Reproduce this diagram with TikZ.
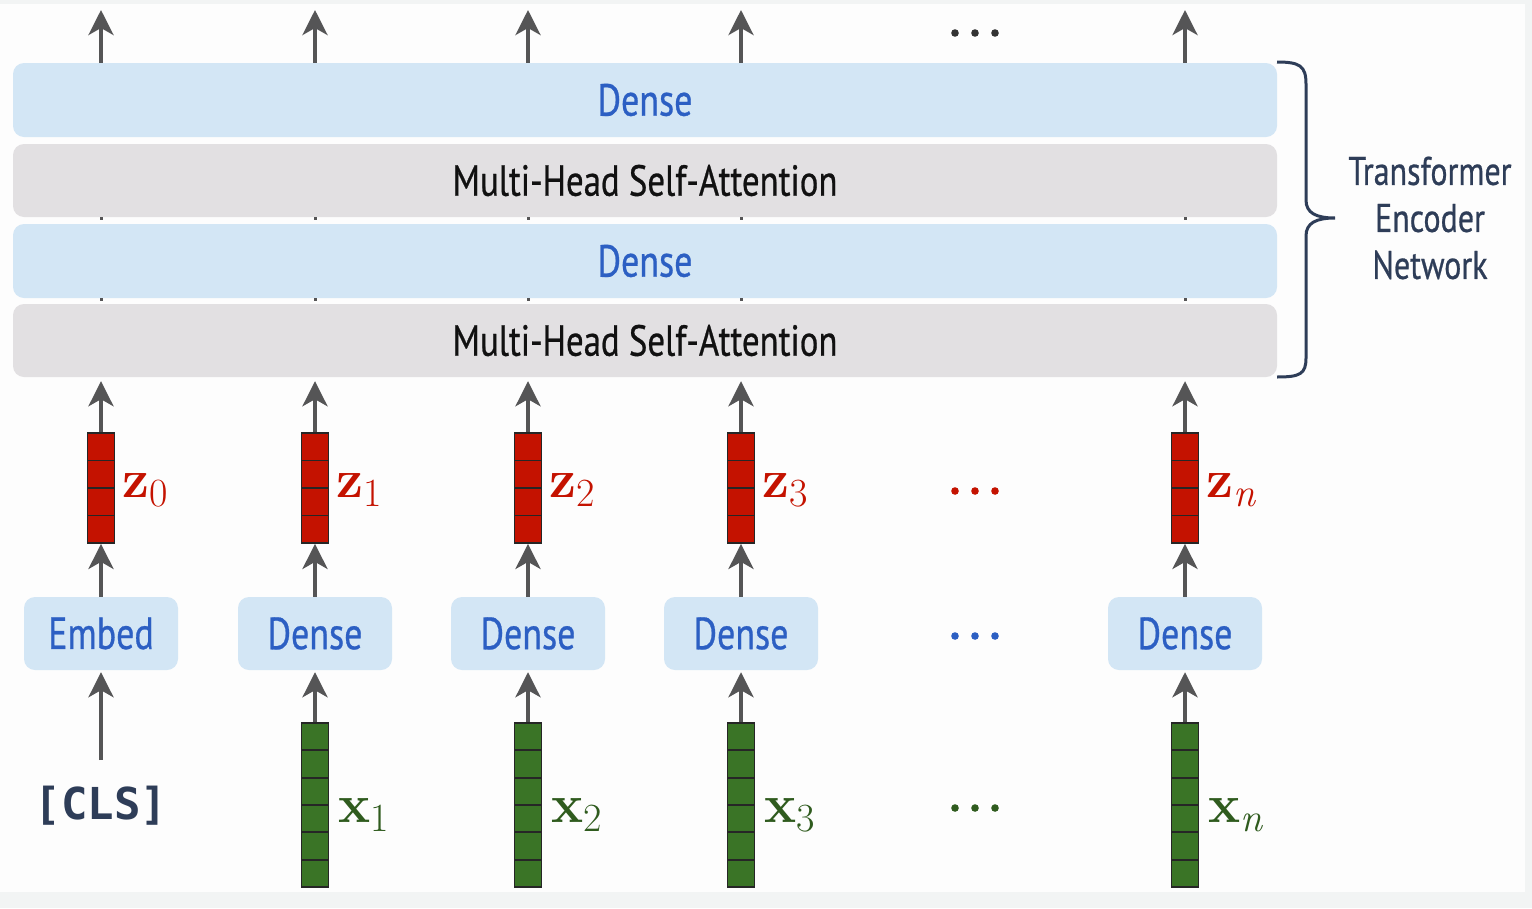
\documentclass[tikz,border=0pt]{standalone}
\usepackage{fontspec}
\setmainfont{PT Sans}
\newfontfamily\condf[FakeStretch=0.8,FakeBold=0.6]{PT Sans}
\newfontfamily\monof{DejaVu Sans Mono}
\newfontfamily\lmr{Latin Modern Roman}
\usetikzlibrary{arrows.meta}
\definecolor{densefill}{HTML}{D3E6F5}
\definecolor{mhsafill}{HTML}{E2E0E2}
\definecolor{textblue}{HTML}{2C5FC3}
\definecolor{mhsatext}{HTML}{111111}
\definecolor{zred}{HTML}{C41200}
\definecolor{xgreen}{HTML}{3A7426}
\definecolor{xlabgreen}{HTML}{2F5B1E}
\definecolor{slate}{HTML}{2E3D58}
\definecolor{arrgray}{HTML}{555556}
\definecolor{bgmain}{HTML}{FDFDFD}
\definecolor{bgedge}{HTML}{F2F4F4}
\newcommand{\vlab}[2]{{\lmr\fontsize{54}{54}\selectfont\bfseries #1}\raisebox{-9pt}{\lmr\fontsize{40}{40}\selectfont #2}}
\begin{document}
\begin{tikzpicture}[x=1pt,y=-1pt,
  arr/.style={draw=arrgray, line width=4pt, -{Stealth[length=25pt,width=25pt,inset=7pt]}},
  bigbox/.style={rectangle, rounded corners=11pt, minimum width=1264pt, minimum height=74pt, inner sep=0pt, font=\condf\fontsize{45}{45}\selectfont},
  bigdense/.style={bigbox, fill=densefill, text=textblue},
  bigmhsa/.style={bigbox, fill=mhsafill, text=mhsatext, font=\condf\fontsize{43.5}{45}\selectfont},
  smallbox/.style={rectangle, rounded corners=11pt, fill=densefill, minimum width=154pt, minimum height=73pt, inner sep=0pt, font=\condf\fontsize{45}{45}\selectfont, text=textblue},
  zvec/.style={rectangle, draw=black!85, line width=1.8pt, fill=zred, minimum width=27pt, minimum height=110pt, inner sep=0pt,
    path picture={\foreach \k in {1,2,3}{\draw[black!85, line width=1.8pt] ([yshift=-\k*27.5pt]path picture bounding box.north west) -- ([yshift=-\k*27.5pt]path picture bounding box.north east);}}},
  xvec/.style={rectangle, draw=black!85, line width=1.8pt, fill=xgreen, minimum width=27pt, minimum height=164pt, inner sep=0pt,
    path picture={\foreach \k in {1,...,5}{\draw[black!85, line width=1.8pt] ([yshift=-\k*27.33pt]path picture bounding box.north west) -- ([yshift=-\k*27.33pt]path picture bounding box.north east);}}},
  zlab/.style={inner sep=0pt, anchor=base west, text=zred},
  xlab/.style={inner sep=0pt, anchor=base west, text=xlabgreen},
  tick/.style={draw=arrgray, line width=3pt},
]
\useasboundingbox (0,0) rectangle (1532,908);
\fill[bgedge] (0,0) rectangle (1532,908);
\fill[bgmain] (0,4) rectangle (1525,892);

% encoder stack
\node[bigdense] (td) at (645,100) {Dense};
\node[bigmhsa, minimum height=73pt] (m2) at (645,180.5) {Multi-Head Self-Attention};
\node[bigdense] (d1) at (645,261) {Dense};
\node[bigmhsa, minimum height=73pt] (m1) at (645,340.5) {Multi-Head Self-Attention};

% columns
\foreach \i/\x in {0/101,1/315,2/528,3/741,n/1185}{
  \coordinate (t\i) at (\x,10);
  \node[zvec] (z\i) at (\x,488) {};
  \draw[arr, shorten >=4pt] (z\i.north) -- (z\i.north |- m1.south);
  \draw[arr] (t\i |- td.north) -- (t\i);
  \draw[tick] (t\i |- m2.south) -- ++(0,2.5);
  \draw[tick] (t\i |- d1.south) -- ++(0,2.5);
}
\node[smallbox] (b0) at (101,633.5) {Embed};
\foreach \i/\x in {1/315,2/528,3/741,n/1185}{
  \node[smallbox] (b\i) at (\x,633.5) {Dense};
  \node[xvec] (x\i) at (\x,805) {};
  \draw[arr, shorten >=2pt] (x\i.north) -- (b\i.south);
}
\foreach \i in {0,1,2,3,n}{
  \draw[arr] (b\i.north) -- (z\i.south);
}

% [CLS]
\coordinate (clsTop) at (101,760);
\node[inner sep=0pt, text=slate, font=\monof\bfseries\fontsize{44}{44}\selectfont] (cls) at (101,806) {[CLS]};
\draw[arr, shorten >=2pt] (clsTop) -- (b0.south);

% labels
\node[zlab] (zl0) at ([xshift=7pt,yshift=-9pt]z0.east) {\vlab{z}{0}};
\node[zlab] (zl1) at ([xshift=7pt,yshift=-9pt]z1.east) {\vlab{z}{1}};
\node[zlab] (zl2) at ([xshift=7pt,yshift=-9pt]z2.east) {\vlab{z}{2}};
\node[zlab] (zl3) at ([xshift=7pt,yshift=-9pt]z3.east) {\vlab{z}{3}};
\node[zlab] (zln) at ([xshift=7pt,yshift=-9pt]zn.east) {\vlab{z}{\itshape n}};
\node[xlab] (xl1) at ([xshift=9pt,yshift=-17pt]x1.east) {\vlab{x}{1}};
\node[xlab] (xl2) at ([xshift=9pt,yshift=-17pt]x2.east) {\vlab{x}{2}};
\node[xlab] (xl3) at ([xshift=9pt,yshift=-17pt]x3.east) {\vlab{x}{3}};
\node[xlab] (xln) at ([xshift=9pt,yshift=-17pt]xn.east) {\vlab{x}{\itshape n}};

% dots
\foreach \dx in {955,975,995}{
  \fill[black!80] (\dx,33) circle (3.8);
  \fill[zred] (\dx,491) circle (3.8);
  \fill[textblue] (\dx,636) circle (3.8);
  \fill[xlabgreen] (\dx,808) circle (3.8);
}

% brace
\draw[slate, line width=3pt] (1277,62) .. controls (1300,62) and (1306,66) .. (1306,84) -- (1306,200)
  .. controls (1306,213) and (1316,218) .. (1335,218)
  .. controls (1316,218) and (1306,223) .. (1306,236) -- (1306,358)
  .. controls (1306,374) and (1300,377) .. (1277,377);
\node[align=center, text=slate, font=\condf\fontsize{40}{47}\selectfont] (tenc) at (1430,218) {Transformer\\Encoder\\Network};
\end{tikzpicture}
\end{document}
